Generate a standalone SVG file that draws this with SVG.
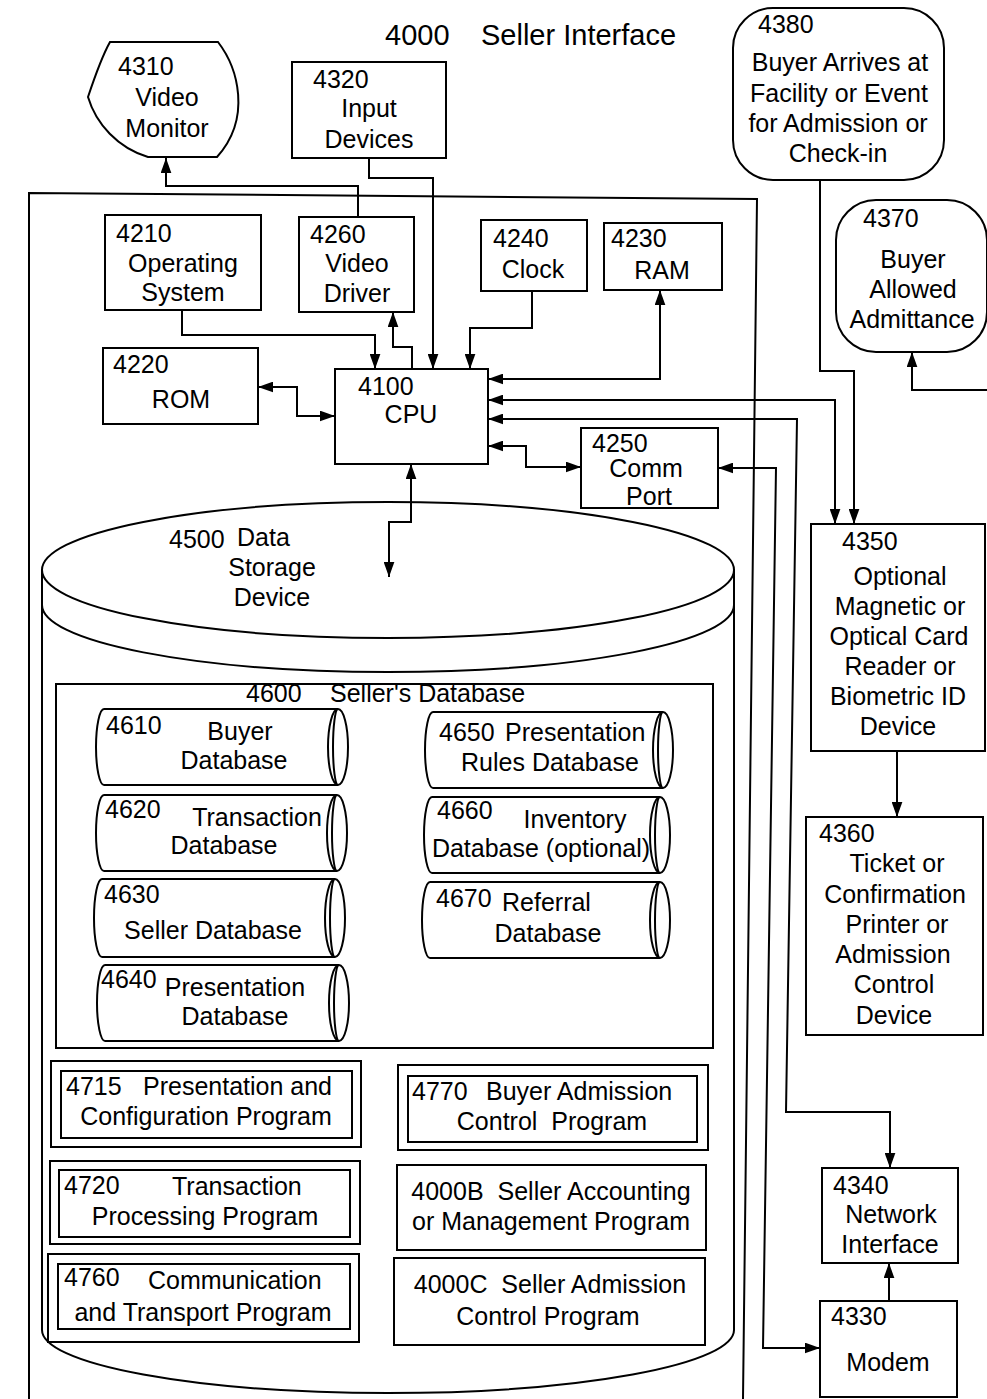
<svg xmlns="http://www.w3.org/2000/svg" width="987" height="1399" viewBox="0 0 987 1399">
<style>
.b{fill:#fff;stroke:#000;stroke-width:2}
.n{fill:none;stroke:#000;stroke-width:2}
text{font-family:"Liberation Sans",Arial,sans-serif;font-size:25px;fill:#000}
.c{text-anchor:middle}
.t{font-size:29px}
.cn{fill:none;stroke:#000;stroke-width:2;marker-end:url(#ah)}
.bi{marker-start:url(#ah)}
</style>
<defs>
<marker id="ah" viewBox="0 0 14 10" refX="14" refY="5" markerWidth="15" markerHeight="11" markerUnits="userSpaceOnUse" orient="auto-start-reverse">
<path d="M0,0 L14,5 L0,10 Z" fill="#000"/>
</marker>
</defs>
<rect x="0" y="0" width="987" height="1399" fill="#fff"/>

<g id="n4000">
<path class="n" d="M29,1399 L29,193 L757,199 L743,1399"/>
<text class="t" x="385" y="45">4000</text>
<text class="t" x="481" y="45">Seller Interface</text>
</g>

<g id="n4500">
<path class="b" d="M42,570 L42,1330 A346,63 0 0 0 734,1330 L734,570 Z"/>
<ellipse class="b" cx="388" cy="570" rx="346" ry="68"/>
<path class="n" d="M42,605 A346,67 0 0 0 734,605"/>
<text x="169" y="548">4500</text>
<text x="237" y="546">Data</text>
<text class="c" x="272" y="576">Storage</text>
<text class="c" x="272" y="606">Device</text>
</g>

<g id="n4310">
<path class="b" d="M110,42 L218,42 C238,68 252,118 217,157 L148,157 C118,148 96,124 88,97 C95,76 101,58 110,42 Z"/>
<text x="118" y="75">4310</text>
<text class="c" x="167" y="106">Video</text>
<text class="c" x="167" y="137">Monitor</text>
</g>

<g id="n4320">
<rect class="b" x="292" y="62" width="154" height="96"/>
<text x="313" y="88">4320</text>
<text class="c" x="369" y="117">Input</text>
<text class="c" x="369" y="148">Devices</text>
</g>

<g id="n4380">
<rect class="b" x="733" y="8" width="211" height="172" rx="40" ry="40"/>
<text x="758" y="33">4380</text>
<text class="c" x="840" y="71">Buyer Arrives at</text>
<text class="c" x="839" y="102">Facility or Event</text>
<text class="c" x="838" y="132">for Admission or</text>
<text class="c" x="838" y="162">Check-in</text>
</g>

<g id="n4370">
<rect class="b" x="836" y="200" width="151" height="152" rx="40" ry="40"/>
<text x="863" y="227">4370</text>
<text class="c" x="913" y="268">Buyer</text>
<text class="c" x="913" y="298">Allowed</text>
<text class="c" x="912" y="328">Admittance</text>
</g>

<g id="n4210">
<rect class="b" x="105" y="215" width="156" height="95"/>
<text x="116" y="242">4210</text>
<text class="c" x="183" y="272">Operating</text>
<text class="c" x="183" y="301">System</text>
</g>

<g id="n4260">
<rect class="b" x="299" y="217" width="115" height="95"/>
<text x="310" y="243">4260</text>
<text class="c" x="357" y="272">Video</text>
<text class="c" x="357" y="302">Driver</text>
</g>

<g id="n4240">
<rect class="b" x="481" y="220" width="106" height="71"/>
<text x="493" y="247">4240</text>
<text class="c" x="533" y="278">Clock</text>
</g>

<g id="n4230">
<rect class="b" x="604" y="223" width="118" height="67"/>
<text x="611" y="247">4230</text>
<text class="c" x="662" y="279">RAM</text>
</g>

<g id="n4220">
<rect class="b" x="103" y="348" width="155" height="76"/>
<text x="113" y="373">4220</text>
<text class="c" x="181" y="408">ROM</text>
</g>

<g id="n4100">
<rect class="b" x="335" y="369" width="153" height="95"/>
<text x="358" y="395">4100</text>
<text class="c" x="411" y="423">CPU</text>
</g>

<g id="n4250">
<rect class="b" x="581" y="428" width="137" height="80"/>
<text x="592" y="452">4250</text>
<text class="c" x="646" y="477">Comm</text>
<text class="c" x="649" y="505">Port</text>
</g>

<g id="n4350">
<rect class="b" x="811" y="524" width="174" height="227"/>
<text x="842" y="550">4350</text>
<text class="c" x="900" y="585">Optional</text>
<text class="c" x="900" y="615">Magnetic or</text>
<text class="c" x="899" y="645">Optical Card</text>
<text class="c" x="900" y="675">Reader or</text>
<text class="c" x="898" y="705">Biometric ID</text>
<text class="c" x="898" y="735">Device</text>
</g>

<g id="n4360">
<rect class="b" x="806" y="817" width="177" height="218"/>
<text x="819" y="842">4360</text>
<text class="c" x="897" y="872">Ticket or</text>
<text class="c" x="895" y="903">Confirmation</text>
<text class="c" x="897" y="933">Printer or</text>
<text class="c" x="893" y="963">Admission</text>
<text class="c" x="894" y="993">Control</text>
<text class="c" x="894" y="1024">Device</text>
</g>

<g id="n4340">
<rect class="b" x="822" y="1168" width="136" height="95"/>
<text x="833" y="1194">4340</text>
<text class="c" x="891" y="1223">Network</text>
<text class="c" x="890" y="1253">Interface</text>
</g>

<g id="n4330">
<rect class="b" x="820" y="1301" width="137" height="96"/>
<text x="831" y="1325">4330</text>
<text class="c" x="888" y="1371">Modem</text>
</g>

<g id="n4600">
<rect class="b" x="56" y="684" width="657" height="364"/>
<text x="246" y="702">4600</text>
<text x="330" y="702">Seller's Database</text>
</g>

<g id="n4610">
<path class="b" d="M104,709 H338 A10,38 0 0 1 338,785 H104 A8,38 0 0 1 104,709 Z"/>
<path class="n" d="M338,709 A10,38 0 0 0 338,785 M338,709 A5,38 0 0 0 338,785"/>
<text x="106" y="734">4610</text>
<text class="c" x="240" y="740">Buyer</text>
<text class="c" x="234" y="769">Database</text>
</g>

<g id="n4620">
<path class="b" d="M104,795 H337 A10,38 0 0 1 337,871 H104 A8,38 0 0 1 104,795 Z"/>
<path class="n" d="M337,795 A10,38 0 0 0 337,871 M337,795 A5,38 0 0 0 337,871"/>
<text x="105" y="818">4620</text>
<text class="c" x="257" y="826">Transaction</text>
<text class="c" x="224" y="854">Database</text>
</g>

<g id="n4630">
<path class="b" d="M102,879 H335 A10,39 0 0 1 335,957 H102 A8,39 0 0 1 102,879 Z"/>
<path class="n" d="M335,879 A10,39 0 0 0 335,957 M335,879 A5,39 0 0 0 335,957"/>
<text x="104" y="903">4630</text>
<text class="c" x="213" y="939">Seller Database</text>
</g>

<g id="n4640">
<path class="b" d="M105,965 H339 A10,38 0 0 1 339,1041 H105 A8,38 0 0 1 105,965 Z"/>
<path class="n" d="M339,965 A10,38 0 0 0 339,1041 M339,965 A5,38 0 0 0 339,1041"/>
<text x="101" y="988">4640</text>
<text class="c" x="235" y="996">Presentation</text>
<text class="c" x="235" y="1025">Database</text>
</g>

<g id="n4650">
<path class="b" d="M433,712 H663 A10,38 0 0 1 663,788 H433 A8,38 0 0 1 433,712 Z"/>
<path class="n" d="M663,712 A10,38 0 0 0 663,788 M663,712 A5,38 0 0 0 663,788"/>
<text x="439" y="741">4650</text>
<text x="505" y="741">Presentation</text>
<text class="c" x="550" y="771">Rules Database</text>
</g>

<g id="n4660">
<path class="b" d="M432,797 H660 A10,38 0 0 1 660,873 H432 A8,38 0 0 1 432,797 Z"/>
<path class="n" d="M660,797 A10,38 0 0 0 660,873 M660,797 A5,38 0 0 0 660,873"/>
<text x="437" y="819">4660</text>
<text class="c" x="575" y="828">Inventory</text>
<text class="c" x="541" y="857">Database (optional)</text>
</g>

<g id="n4670">
<path class="b" d="M430,882 H660 A10,38 0 0 1 660,958 H430 A8,38 0 0 1 430,882 Z"/>
<path class="n" d="M660,882 A10,38 0 0 0 660,958 M660,882 A5,38 0 0 0 660,958"/>
<text x="436" y="907">4670</text>
<text x="502" y="911">Referral</text>
<text class="c" x="548" y="942">Database</text>
</g>

<g id="n4715">
<rect class="b" x="51" y="1061" width="310" height="86"/>
<rect class="n" x="61" y="1071" width="291" height="67"/>
<text x="66" y="1095">4715</text>
<text x="143" y="1095">Presentation and</text>
<text class="c" x="206" y="1125">Configuration Program</text>
</g>

<g id="n4770">
<rect class="b" x="398" y="1065" width="310" height="85"/>
<rect class="n" x="408" y="1076" width="289" height="66"/>
<text x="412" y="1100">4770</text>
<text x="486" y="1100">Buyer Admission</text>
<text class="c" x="552" y="1130" xml:space="preserve">Control  Program</text>
</g>

<g id="n4720">
<rect class="b" x="50" y="1161" width="310" height="83"/>
<rect class="n" x="59" y="1170" width="291" height="67"/>
<text x="64" y="1194">4720</text>
<text x="172" y="1195">Transaction</text>
<text class="c" x="205" y="1225">Processing Program</text>
</g>

<g id="n4000B">
<rect class="b" x="397" y="1165" width="309" height="85"/>
<text class="c" x="551" y="1200" xml:space="preserve">4000B  Seller Accounting</text>
<text class="c" x="551" y="1230">or Management Program</text>
</g>

<g id="n4760">
<rect class="b" x="48" y="1254" width="311" height="88"/>
<rect class="n" x="58" y="1264" width="292" height="65"/>
<text x="64" y="1286">4760</text>
<text x="148" y="1289">Communication</text>
<text class="c" x="203" y="1321">and Transport Program</text>
</g>

<g id="n4000C">
<rect class="b" x="394" y="1258" width="311" height="87"/>
<text class="c" x="550" y="1293" xml:space="preserve">4000C  Seller Admission</text>
<text class="c" x="548" y="1325">Control Program</text>
</g>

<g id="connectors">
<polyline class="cn" points="358,217 358,186 166,186 166,158"/>
<polyline class="cn" points="369,158 369,178 433,178 433,369"/>
<polyline class="cn" points="182,310 182,335 375,335 375,369"/>
<polyline class="cn" points="412,369 412,347 393,347 393,312"/>
<polyline class="cn" points="532,291 532,328 470,328 470,369"/>
<polyline class="cn bi" points="488,379 660,379 660,290"/>
<polyline class="cn bi" points="258,387 297,387 297,416 335,416"/>
<polyline class="cn bi" points="488,446 526,446 526,467 581,467"/>
<polyline class="cn bi" points="411,464 411,522 389,522 389,577"/>
<polyline class="cn bi" points="488,400 835,400 835,524"/>
<polyline class="cn" points="820,180 820,371 854,371 854,524"/>
<polyline class="cn bi" points="488,419 797,419 786,1112 890,1112 890,1168"/>
<polyline class="cn bi" points="718,468 776,468 763,1348 820,1348"/>
<polyline class="cn" points="897,751 897,817"/>
<polyline class="cn" points="889,1301 889,1263"/>
<polyline class="cn" points="990,390 912,390 912,352"/>
</g>
</svg>
